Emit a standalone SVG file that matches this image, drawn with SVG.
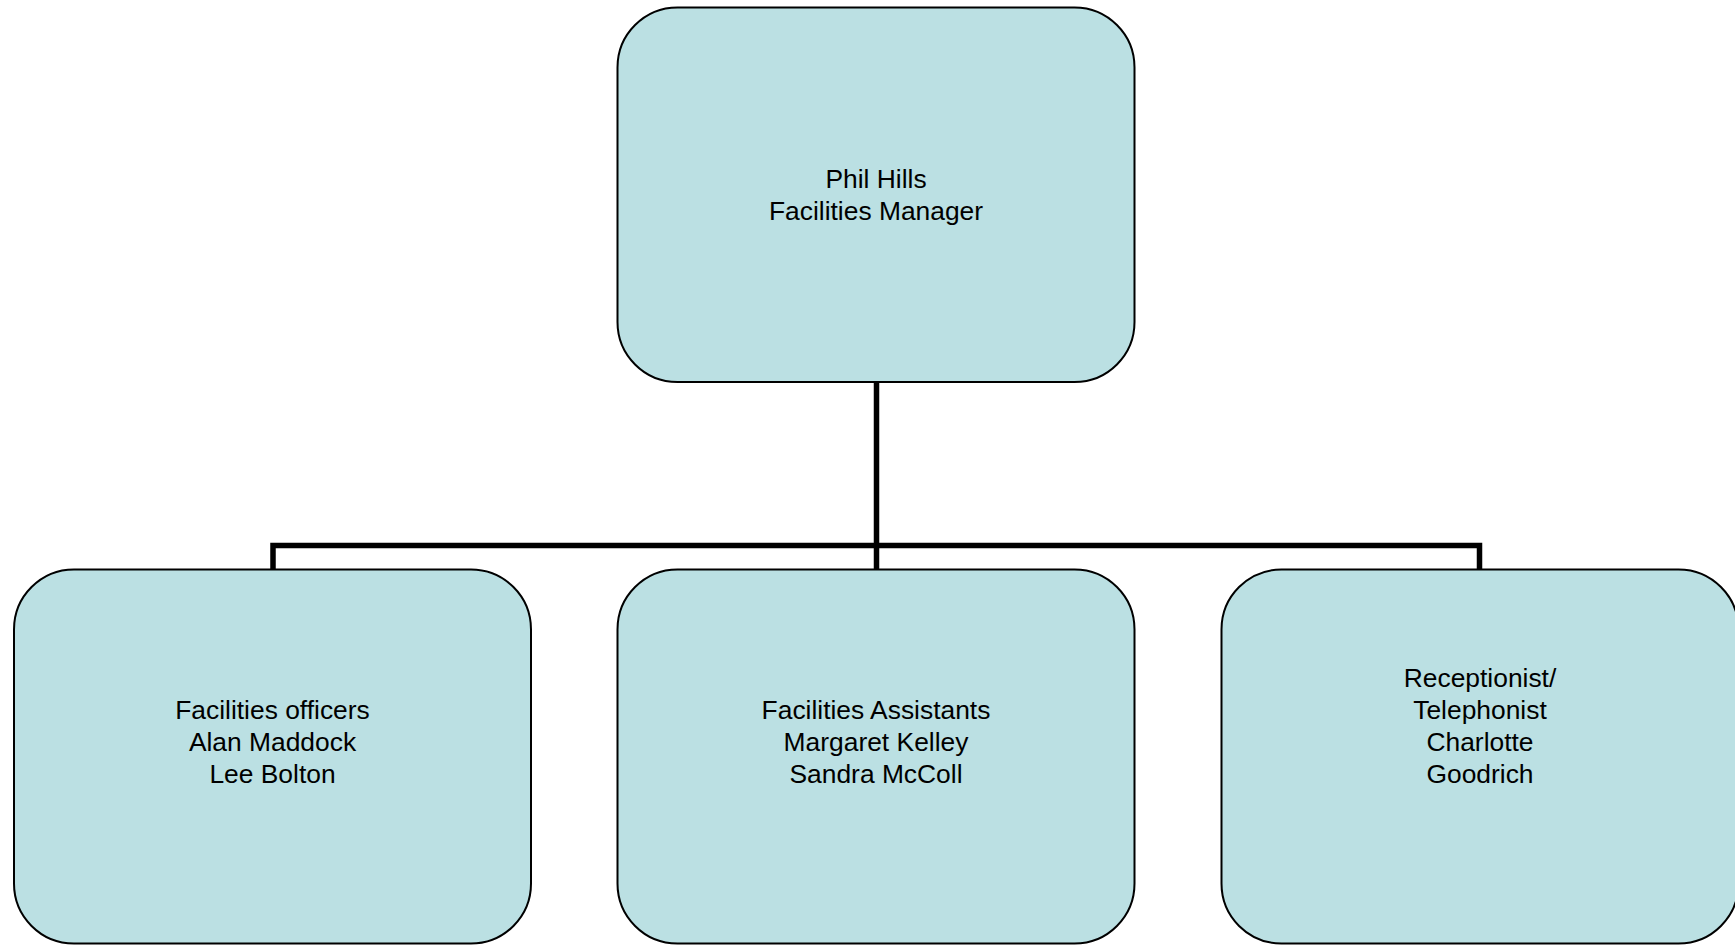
<svg xmlns="http://www.w3.org/2000/svg" width="1735" height="945" viewBox="0 0 1735 945">
<style>
.box{fill:#BBE0E3;stroke:#000;stroke-width:2}
.conn{fill:none;stroke:#000;stroke-width:5.5;stroke-linejoin:miter;stroke-linecap:butt}
text{font-family:"Liberation Sans",Arial,sans-serif;font-size:26.4px;fill:#000;text-anchor:middle}
</style>
<rect width="1735" height="945" fill="#fff"/>
<g id="connectors">
<path class="conn" d="M876.5,382 V545.5"/>
<path class="conn" d="M273,569 V545.5 H1479.5 V569"/>
<path class="conn" d="M876.5,545.5 V569"/>
</g>
<g id="phil-hills">
<rect class="box" x="617.5" y="7.5" width="517" height="374.5" rx="60" ry="60"/>
<text x="876" y="187.5">Phil Hills</text>
<text x="876" y="220">Facilities Manager</text>
</g>
<g id="facilities-officers">
<rect class="box" x="14" y="569.5" width="517" height="374" rx="60" ry="60"/>
<text x="272.5" y="718.5">Facilities officers</text>
<text x="272.5" y="750.5">Alan Maddock</text>
<text x="272.5" y="782.5">Lee Bolton</text>
</g>
<g id="facilities-assistants">
<rect class="box" x="617.5" y="569.5" width="517" height="374" rx="60" ry="60"/>
<text x="876" y="718.5">Facilities Assistants</text>
<text x="876" y="750.5">Margaret Kelley</text>
<text x="876" y="782.5">Sandra McColl</text>
</g>
<g id="receptionist">
<rect class="box" x="1221.5" y="569.5" width="517" height="374" rx="60" ry="60"/>
<text x="1480" y="686.5">Receptionist/</text>
<text x="1480" y="718.5">Telephonist</text>
<text x="1480" y="750.5">Charlotte</text>
<text x="1480" y="782.5">Goodrich</text>
</g>
</svg>
